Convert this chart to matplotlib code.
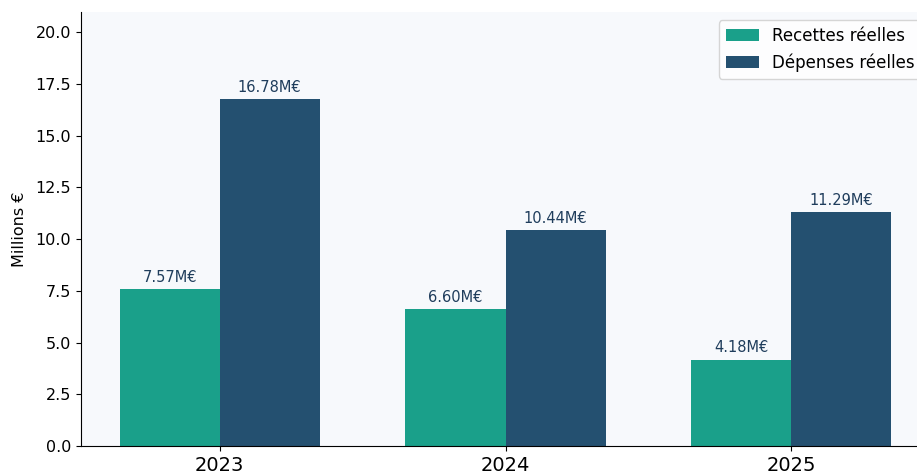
import numpy as np
import matplotlib
matplotlib.use("Agg")
from matplotlib import pyplot as plt

years = ["2023", "2024", "2025"]
recettes = [7.57, 6.60, 4.18]
depenses = [16.78, 10.44, 11.29]

GREEN = "#1aa08a"
BLUE = "#245070"
LABEL = "#1f3d5c"

fig = plt.figure(figsize=(9.17, 4.75), dpi=100)
ax = fig.add_axes([81 / 917, 29 / 475, 849 / 917, 434 / 475])
ax.set_facecolor("#f7f9fc")

x = np.arange(len(years))
w = 0.35
b1 = ax.bar(x - w / 2, recettes, w, color=GREEN, label="Recettes réelles")
b2 = ax.bar(x + w / 2, depenses, w, color=BLUE, label="Dépenses réelles")

for bars in (b1, b2):
    for b in bars:
        h = b.get_height()
        ax.annotate(f"{h:.2f}M€", (b.get_x() + b.get_width() / 2, h),
                    xytext=(0, 3), textcoords="offset points",
                    ha="center", va="bottom", fontsize=10.5, color=LABEL)

ax.set_xticks(x)
ax.set_xticklabels(years, fontsize=14)
ax.tick_params(axis="y", labelsize=11.5)
ax.set_ylabel("Millions €", fontsize=11.5, labelpad=6)
ax.set_ylim(0, max(depenses) * 1.25)
ax.spines["top"].set_visible(False)
ax.spines["right"].set_visible(False)
ax.legend(loc="upper right", fontsize=12, bbox_to_anchor=(1.0, 1.0))

fig.savefig("out.png", dpi=100)
